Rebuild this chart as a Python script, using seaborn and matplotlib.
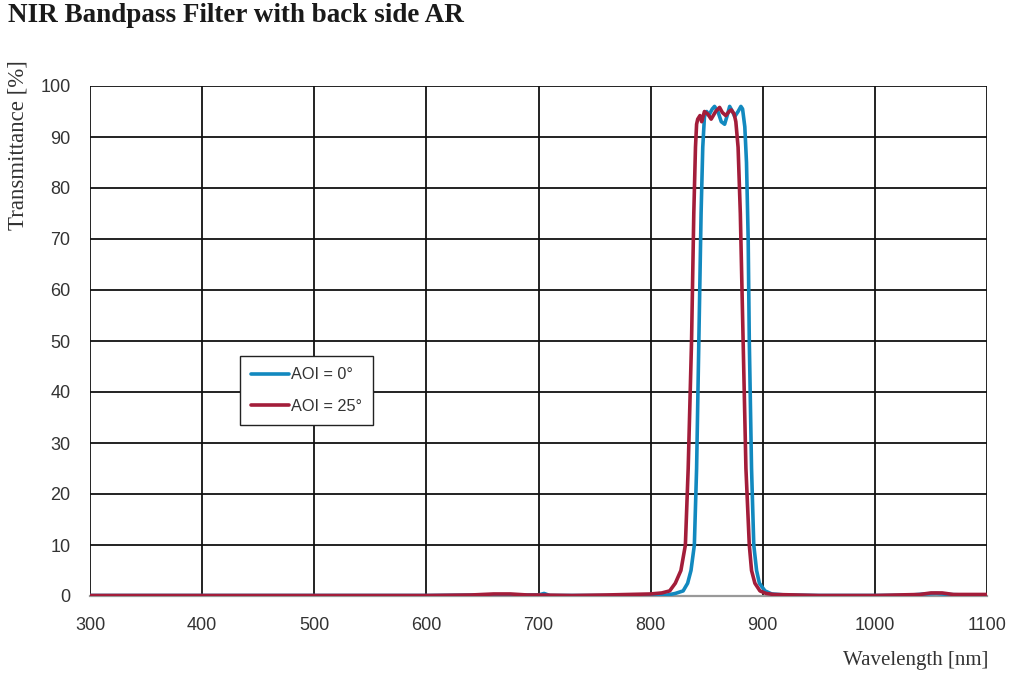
import numpy as np
import pandas as pd
import matplotlib
matplotlib.use("Agg")
import matplotlib.pyplot as plt
import seaborn as sns

# ---- data ----
wl_aoi0 = [300, 400, 500, 600, 650, 680, 700, 705, 710, 750, 800, 815, 822, 829, 833, 836,
           839, 841, 843, 845, 846.5, 848, 850, 852, 855, 857, 860, 863, 866, 868, 870.5,
           873, 875, 878, 880.5, 882, 884, 885.5, 887, 888, 890, 892, 894.5, 897, 902, 908,
           920, 950, 1000, 1030, 1045, 1055, 1065, 1080, 1100]
t_aoi0 = [0.1, 0.1, 0.1, 0.1, 0.2, 0.2, 0.2, 0.5, 0.1, 0.1, 0.1, 0.2, 0.5, 1.0, 2.5, 5.0,
          10, 25, 50, 75, 88, 94, 95, 94.3, 95.5, 96, 95, 93, 92.5, 94, 96,
          95, 94, 95, 96, 95.5, 92, 85, 70, 50, 25, 10, 5, 2.5, 1.0, 0.4,
          0.2, 0.1, 0.1, 0.15, 0.4, 0.5, 0.3, 0.2, 0.2]

wl_aoi25 = [300, 400, 500, 600, 640, 660, 675, 690, 700, 730, 760, 780, 800, 810, 817, 822,
            827, 831, 833.5, 836.5, 838.5, 840, 841, 842, 844, 845.5, 848, 851, 854, 858,
            861.5, 864, 867, 870, 872, 874.5, 876, 878, 880, 882.5, 885, 888, 890, 893,
            897.5, 903, 910, 950, 1000, 1040, 1050, 1060, 1070, 1100]
t_aoi25 = [0.1, 0.1, 0.1, 0.1, 0.2, 0.4, 0.4, 0.2, 0.2, 0.1, 0.2, 0.3, 0.4, 0.6, 1.0, 2.5,
           5.0, 10, 25, 50, 75, 88, 92.5, 93.5, 94.2, 93, 95, 94.5, 93.5, 95,
           95.8, 94.8, 94.2, 95, 95.3, 94.5, 93, 88, 75, 50, 25, 10, 5, 2.5,
           1.0, 0.5, 0.3, 0.1, 0.1, 0.3, 0.6, 0.6, 0.3, 0.3]

series_labels = ["AOI = 0°", "AOI = 25°"]
x_ticks = [300, 400, 500, 600, 700, 800, 900, 1000, 1100]
y_ticks = [0, 10, 20, 30, 40, 50, 60, 70, 80, 90, 100]

title_text = "NIR Bandpass Filter with back side AR"
x_label = "Wavelength [nm]"
y_label = "Transmittance [%]"

df = pd.concat([
    pd.DataFrame({"wl": wl_aoi0, "T": t_aoi0, "series": series_labels[0]}),
    pd.DataFrame({"wl": wl_aoi25, "T": t_aoi25, "series": series_labels[1]}),
], ignore_index=True)

sns.set_style("white")
plt.rcParams["font.family"] = ["Liberation Sans", "DejaVu Sans"]

fig = plt.figure(figsize=(10.14, 6.79), dpi=100)
ax = fig.add_axes([90 / 1014, 1 - 596 / 679, 897 / 1014, 510 / 679])

palette = {series_labels[0]: "#1289bf", series_labels[1]: "#a31d3a"}
sns.lineplot(data=df, x="wl", y="T", hue="series", palette=palette, ax=ax,
             linewidth=2.6, sort=False, estimator=None, zorder=3)

ax.set_xlim(300, 1100)
ax.set_ylim(0, 100)
ax.set_xticks(x_ticks)
ax.set_yticks(y_ticks)
ax.grid(True, color="#111111", linewidth=1.3, zorder=0)
ax.set_axisbelow(True)
for s in ["top", "right", "left"]:
    ax.spines[s].set_visible(False)
ax.spines["bottom"].set_color("#999999")
ax.spines["bottom"].set_linewidth(1.6)
ax.tick_params(axis="both", direction="out", length=6, width=1.3, color="#111111",
               labelsize=13, labelcolor="#333333")
ax.tick_params(axis="x", pad=9)
ax.tick_params(axis="y", pad=8)
ax.set_xlabel("")
ax.set_ylabel("")

leg = ax.legend(loc="upper left", bbox_to_anchor=(0.167, 0.4706), borderaxespad=0,
                frameon=True, fancybox=False, fontsize=11.7, handlelength=2.3,
                handletextpad=0.15, borderpad=0.7, labelspacing=1.0)
leg.get_frame().set_edgecolor("#222222")
leg.get_frame().set_linewidth(1.0)
leg.get_frame().set_alpha(1)
for t in leg.get_texts():
    t.set_color("#333333")

fig.text(8 / 1014, 1 - 15 / 679, title_text, fontsize=19.5, fontweight="bold",
         family="Liberation Serif", color="#1a1a1a", ha="left", va="center")
fig.text(18 / 1014, 1 - 60 / 679, y_label, rotation=90, fontsize=16.5,
         family="Liberation Serif", color="#333333", ha="center", va="top")
fig.text(988 / 1014, 1 - 661 / 679, x_label, fontsize=15,
         family="Liberation Serif", color="#333333", ha="right", va="center")

fig.savefig("out.png", dpi=100, facecolor="white")
